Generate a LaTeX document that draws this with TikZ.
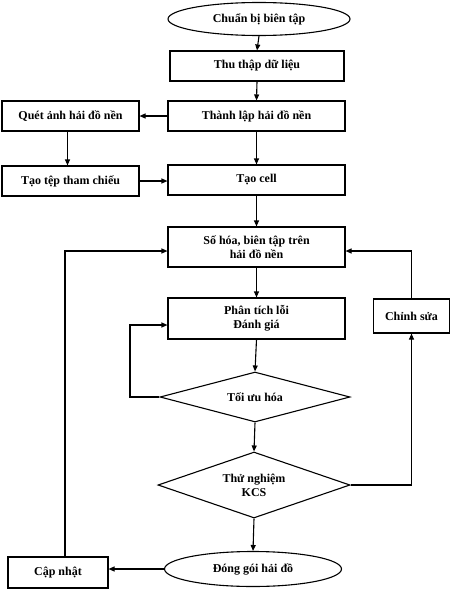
\documentclass[tikz,border=0pt]{standalone}
\usepackage{fontspec}
\setmainfont{Liberation Serif}
\usetikzlibrary{shapes.geometric,arrows.meta}
\begin{document}
\begin{tikzpicture}[x=1pt,y=-1pt,
  every node/.style={font=\fontsize{12}{14}\selectfont\bfseries, align=center, inner sep=0pt, line width=1.1pt},
  box/.style={draw, rectangle},
  oval/.style={draw, ellipse},
  dia/.style={draw, diamond, aspect=4},
  conn/.style={line width=1.1pt, -{Triangle[length=6pt,width=5pt]}},
  plain/.style={line width=1.1pt}]
\useasboundingbox (0,0) rectangle (452,589);
\node[oval, minimum width=182pt, minimum height=33pt] (chuan) at (259,19) {Chuẩn bị biên tập};
\node[box, minimum width=174pt, minimum height=30pt] (thu) at (257,66) {Thu thập dữ liệu};
\node[box, minimum width=177pt, minimum height=30pt] (thanh) at (256.5,116) {Thành lập hải đồ nền};
\node[box, minimum width=137pt, minimum height=30pt] (quet) at (70.5,116) {Quét ảnh hải đồ nền};
\node[box, minimum width=137pt, minimum height=30pt] (taotep) at (70.5,181) {Tạo tệp tham chiếu};
\node[box, minimum width=177pt, minimum height=30pt] (taocell) at (256.5,180) {Tạo cell};
\node[box, minimum width=177pt, minimum height=40pt] (soh) at (256.5,247) {Số hóa, biên tập trên\\hải đồ nền};
\node[box, minimum width=177pt, minimum height=41pt] (phan) at (256.5,318.5) {Phân tích lỗi\\Đánh giá};
\node[box, minimum width=76pt, minimum height=34pt] (chinh) at (411.5,316) {Chỉnh sửa};
\node[dia, minimum width=190pt, minimum height=50pt] (toiuu) at (255,397) {Tối ưu hóa};
\node[dia, minimum width=192pt, minimum height=66pt] (thun) at (254,485) {Thử nghiệm\\KCS};
\node[oval, minimum width=177pt, minimum height=35pt] (dong) at (253,569) {Đóng gói hải đồ};
\node[box, minimum width=100pt, minimum height=31pt] (cap) at (58,572.5) {Cập nhật};

\draw[conn] (chuan.south) -- (thu.north);
\draw[conn] (thu.south) -- (thanh.north);
\draw[conn] (thanh.west) -- (quet.east);
\draw[conn] ([xshift=-3pt]quet.south) -- ([xshift=-3pt]taotep.north);
\draw[conn] (taotep.east) -- (taotep.east -| taocell.west);
\draw[conn] (thanh.south) -- (taocell.north);
\draw[conn] (taocell.south) -- (soh.north);
\draw[conn] (soh.south) -- (phan.north);
\draw[conn] (phan.south) -- (toiuu.north);
\coordinate (lp) at (130,397);
\draw[conn] (toiuu.west) -- (lp) |- ([yshift=-6.5pt]phan.west);
\draw[conn] (toiuu.south) -- (thun.north);
\draw[conn] (thun.east) -| (chinh.south);
\draw[conn] (chinh.north) |- ([yshift=-4pt]soh.east);
\draw[conn] (thun.south) -- (dong.north);
\draw[conn] (dong.west) -- (dong.west -| cap.east);
\draw[conn] ([xshift=7pt]cap.north) |- ([yshift=-4pt]soh.west);
\end{tikzpicture}
\end{document}
